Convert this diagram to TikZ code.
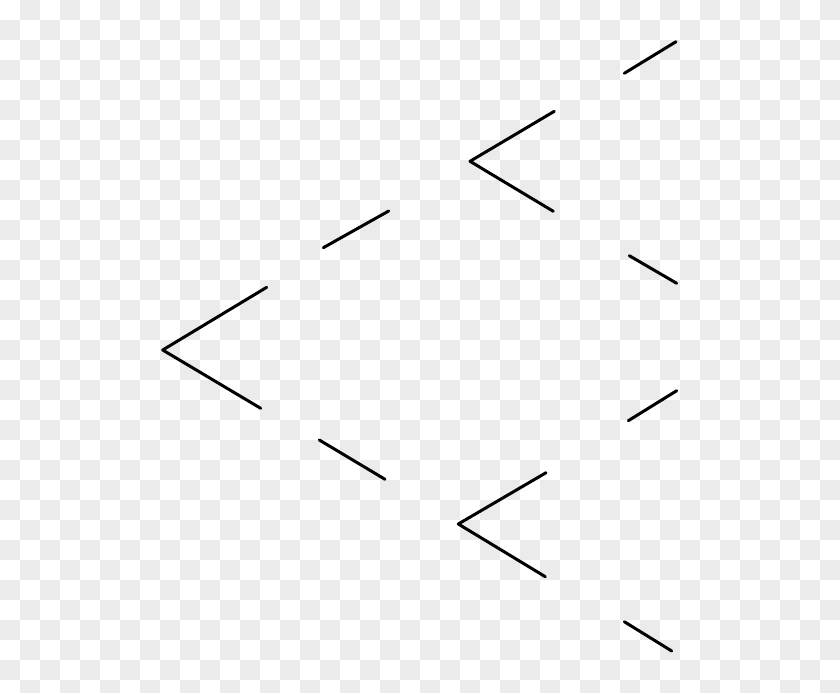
\documentclass[tikz,border=0pt]{standalone}
\definecolor{checkgray}{RGB}{235,235,235}
\begin{document}
\begin{tikzpicture}[x=1pt,y=-1pt,
  branch/.style={line width=3pt,line cap=round,line join=round,black}]
\useasboundingbox (0,0) rectangle (840,693);
\fill[white] (0,0) rectangle (840,693);
\foreach \i in {0,...,41}{
  \foreach \j in {0,...,34}{
    \pgfmathtruncatemacro{\odd}{mod(\i+\j,2)}
    \ifnum\odd=1
      \fill[checkgray] (\i*20,\j*20) rectangle ({min(\i*20+20,840)},{min(\j*20+20,693)});
    \fi
  }
}
% root fork
\coordinate (r) at (162.7,350);
\coordinate (ru) at (266.7,287.3);
\coordinate (rl) at (260.7,408.3);
\draw[branch] (ru) -- (r) -- (rl);
% second-level short segments
\coordinate (a1) at (323.3,247.7);
\coordinate (a2) at (388.7,211);
\draw[branch] (a1) -- (a2);
\coordinate (b1) at (319.3,440);
\coordinate (b2) at (385,479.3);
\draw[branch] (b1) -- (b2);
% upper fork
\coordinate (u) at (470,161.3);
\coordinate (uu) at (554.3,111.3);
\coordinate (ul) at (553.3,211.3);
\draw[branch] (uu) -- (u) -- (ul);
\coordinate (c1) at (624.3,73.3);
\coordinate (c2) at (676,41.7);
\draw[branch] (c1) -- (c2);
\coordinate (d1) at (629.3,255.7);
\coordinate (d2) at (676.7,283.3);
\draw[branch] (d1) -- (d2);
% lower fork
\coordinate (l) at (458.3,524);
\coordinate (lu) at (546,472.7);
\coordinate (ll) at (545.3,576.7);
\draw[branch] (lu) -- (l) -- (ll);
\coordinate (e1) at (628.3,420.7);
\coordinate (e2) at (676.7,390.7);
\draw[branch] (e1) -- (e2);
\coordinate (f1) at (624.3,621.7);
\coordinate (f2) at (671.7,651);
\draw[branch] (f1) -- (f2);
\end{tikzpicture}
\end{document}
